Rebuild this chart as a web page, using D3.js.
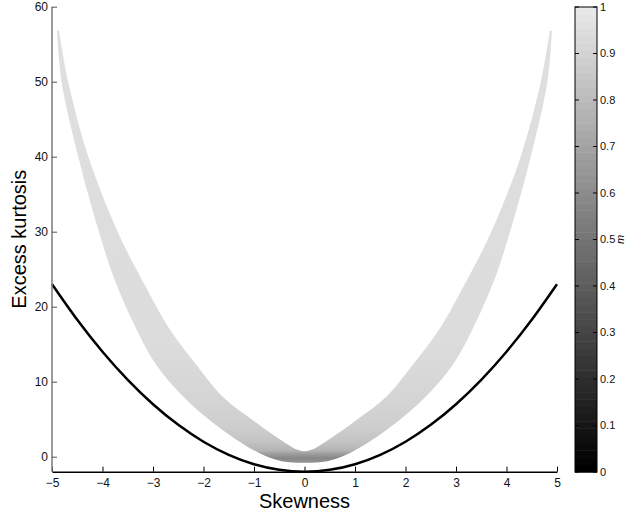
<!DOCTYPE html>
<html>
<head>
<meta charset="utf-8">
<script src="https://cdn.jsdelivr.net/npm/d3@7"></script>
<style>
  body { margin: 0; background: #fff; }
  text { font-family: "Liberation Sans", Arial, Helvetica, sans-serif; }
</style>
</head>
<body>
<svg id="chart" width="628" height="511"></svg>
<script>
// ticks
const skewTicks = [-5, -4, -3, -2, -1, 0, 1, 2, 3, 4, 5]
const kurtTicks = [0, 10, 20, 30, 40, 50, 60]
const mTicks = [0, 0.1, 0.2, 0.3, 0.4, 0.5, 0.6, 0.7, 0.8, 0.9, 1]

// lower bound curve (black line)
const boundSkew = [-5, -4.5, -4, -3.5, -3, -2.5, -2, -1.5, -1, -0.5, 0, 0.5, 1, 1.5, 2, 2.5, 3, 3.5, 4, 4.5, 5]
const boundKurt = [23, 18.25, 14, 10.25, 7, 4.25, 2, 0.25, -1, -1.75, -2, -1.75, -1, 0.25, 2, 4.25, 7, 10.25, 14, 18.25, 23]

// shaded region, left half (tip -> centre), mirrored for the right half
const outerSkew = [-4.90, -4.81, -4.48, -4.07, -3.76, -3.32, -2.96, -2.40, -1.63, -0.90, -0.45, 0]
const outerKurt = [56.8, 50, 40, 30, 23.6, 16.9, 12.5, 8.0, 3.6, 0.5, -0.6, -0.8]
const innerSkew = [-4.86, -4.68, -4.28, -3.70, -3.22, -2.66, -2.17, -1.62, -1.05, -0.55, -0.15, 0]
const innerKurt = [56.8, 50, 40, 30, 23.6, 16.9, 12.5, 8.0, 5.0, 2.6, 0.95, 0.7]

// m shading of the region by kurtosis level
const shadeKurt = [-0.8, -0.2, 0.4, 0.8, 2, 4, 8, 15, 56.8]
const shadeM = [0.64, 0.58, 0.68, 0.77, 0.84, 0.89, 0.92, 0.95, 0.96]

const svg = d3.select("#chart")

const x = d3.scaleLinear().domain([-5, 5]).range([52, 557])
const y = d3.scaleLinear().domain([-2, 60]).range([471.7, 6.7])
const cb = d3.scaleLinear().domain([0, 1]).range([472, 7])

//gray colormap, top end is not pure white
const gray = m => { let v = Math.round(232 * m); return d3.rgb(v, v, v).toString() }

// gradient for the region
const defs = svg.append("defs")
const grad = defs.append("linearGradient").attr("id", "bandGrad")
  .attr("gradientUnits", "userSpaceOnUse")
  .attr("x1", 0).attr("x2", 0)
  .attr("y1", y(shadeKurt[0])).attr("y2", y(shadeKurt[shadeKurt.length - 1]))
const gy = d3.scaleLinear().domain([shadeKurt[0], shadeKurt[shadeKurt.length - 1]]).range([0, 1])
shadeKurt.forEach((k, i) => {
  grad.append("stop").attr("offset", gy(k)).attr("stop-color", gray(shadeM[i]))
})

// build region outline
let outerL = outerSkew.map((s, i) => [s, outerKurt[i]])
let outerR = outerL.slice(0, -1).map(d => [-d[0], d[1]]).reverse()
let outer = outerL.concat(outerR)
let innerR = innerSkew.map((s, i) => [-s, innerKurt[i]])
let innerL = innerSkew.map((s, i) => [s, innerKurt[i]]).reverse()

const smooth = d3.line().x(d => x(d[0])).y(d => y(d[1])).curve(d3.curveCatmullRom.alpha(0.5))
let bandPath = smooth(outer) + smooth(innerR).replace(/^M/, "L") + smooth(innerL).replace(/^M/, "L") + "Z"

svg.append("path").attr("d", bandPath).attr("fill", "url(#bandGrad)").attr("stroke", "none")

// lower bound
const bound = boundSkew.map((s, i) => [s, boundKurt[i]])
svg.append("path")
  .attr("d", d3.line().x(d => x(d[0])).y(d => y(d[1])).curve(d3.curveNatural)(bound))
  .attr("fill", "none").attr("stroke", "#000").attr("stroke-width", 2.5)

// axes
const fmt = d3.format("d")
let xa = svg.append("g").attr("transform", `translate(0,${y(-2)})`)
  .call(d3.axisBottom(x).tickValues(skewTicks).tickFormat(fmt).tickSizeInner(-5).tickSizeOuter(0).tickPadding(7))
xa.select(".domain").attr("stroke", "#000").attr("stroke-width", 1.5)
xa.selectAll(".tick line").attr("stroke", "#000")
xa.selectAll("text").attr("font-size", 12).attr("fill", "#111")

let ya = svg.append("g").attr("transform", `translate(${x(-5)},0)`)
  .call(d3.axisLeft(y).tickValues(kurtTicks).tickFormat(fmt).tickSizeInner(-5).tickSizeOuter(0).tickPadding(4))
ya.select(".domain").attr("stroke", "#7a7a7a").attr("stroke-width", 1.5)
  .attr("d", `M0,${y(-2)}V${y(60)}`)
ya.selectAll(".tick line").attr("stroke", "#555")
ya.selectAll("text").attr("font-size", 12).attr("fill", "#111")

svg.append("text").attr("x", x(0)).attr("y", 508).attr("text-anchor", "middle")
  .attr("font-size", 20).text("Skewness")
svg.append("text").attr("transform", `translate(26,${y(29)}) rotate(-90)`).attr("text-anchor", "middle")
  .attr("font-size", 20).text("Excess kurtosis")

// colorbar
const cbX = 575, cbW = 22, nSteps = 64
const steps = d3.range(nSteps)
svg.append("g").selectAll("rect").data(steps).enter().append("rect")
  .attr("x", cbX).attr("width", cbW)
  .attr("y", d => cb((d + 1) / nSteps)).attr("height", d => cb(d / nSteps) - cb((d + 1) / nSteps) + 0.5)
  .attr("fill", d => gray(d / (nSteps - 1)))
svg.append("rect").attr("x", cbX).attr("y", cb(1)).attr("width", cbW).attr("height", cb(0) - cb(1))
  .attr("fill", "none").attr("stroke", "#000").attr("stroke-width", 1)

let cbg = svg.append("g")
cbg.selectAll("line.l").data(mTicks).enter().append("line")
  .attr("x1", cbX).attr("x2", cbX + 4).attr("y1", d => cb(d)).attr("y2", d => cb(d)).attr("stroke", "#000")
cbg.selectAll("line.r").data(mTicks).enter().append("line")
  .attr("x1", cbX + cbW - 4).attr("x2", cbX + cbW).attr("y1", d => cb(d)).attr("y2", d => cb(d)).attr("stroke", "#000")
cbg.selectAll("text").data(mTicks).enter().append("text")
  .attr("x", cbX + cbW + 3).attr("y", d => cb(d)).attr("dy", "0.35em")
  .attr("font-size", 11).attr("fill", "#111")
  .text(d => d3.format(".1~f")(d))

svg.append("text").attr("transform", `translate(624,${cb(0.5)}) rotate(-90)`).attr("text-anchor", "middle")
  .attr("font-size", 11).attr("font-style", "italic").attr("font-family", "'Liberation Serif', serif").text("m")
</script>
</body>
</html>
